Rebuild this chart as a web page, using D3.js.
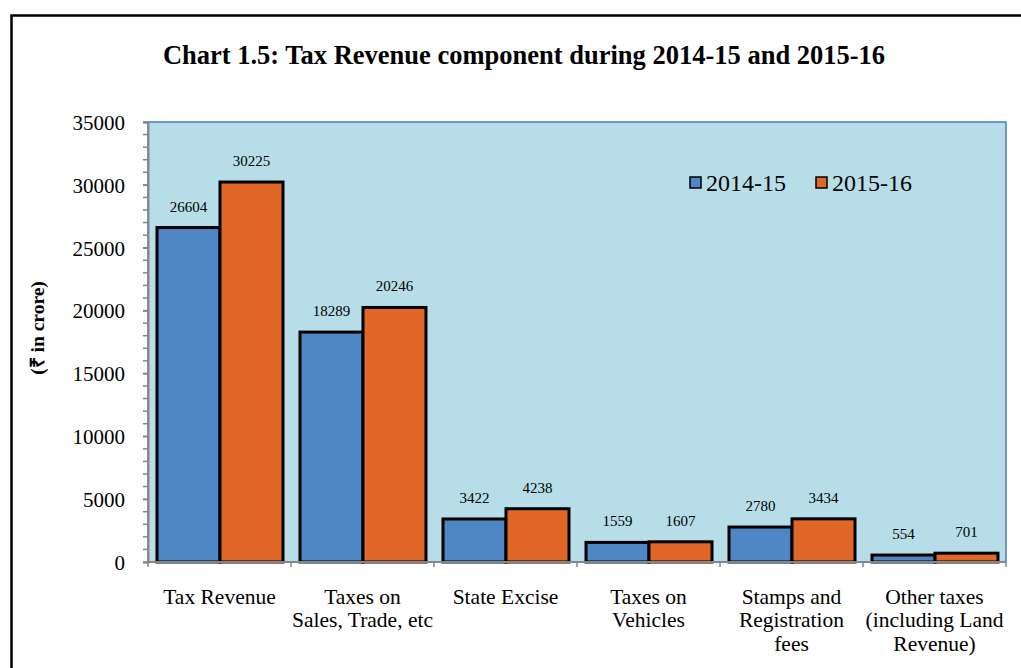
<!DOCTYPE html>
<html>
<head>
<meta charset="utf-8">
<script src="https://cdn.jsdelivr.net/npm/d3@7"></script>
<style>
  body { margin: 0; background: #fff; }
  svg text { font-family: "Liberation Serif", "Times New Roman", serif; }
</style>
</head>
<body>
<svg id="chart" width="1021" height="668"></svg>
<script>
const categories = [
  ['Tax Revenue'],
  ['Taxes on', 'Sales, Trade, etc'],
  ['State Excise'],
  ['Taxes on', 'Vehicles'],
  ['Stamps and', 'Registration', 'fees'],
  ['Other taxes', '(including Land', 'Revenue)']
]
const series = ['2014-15', '2015-16']
const values1415 = [26604, 18289, 3422, 1559, 2780, 554]
const values1516 = [30225, 20246, 4238, 1607, 3434, 701]
const yTicks = [0, 5000, 10000, 15000, 20000, 25000, 30000, 35000]

const colors = ['#4F86C6', '#E06726']
const serif = '"Liberation Serif", "Times New Roman", serif'

const svg = d3.select('#chart')

// outer frame
svg.append('path')
  .attr('d', 'M11.5,668 V15.5 H1021')
  .attr('fill', 'none')
  .attr('stroke', '#000')
  .attr('stroke-width', 2.5)

svg.append('text')
  .attr('x', 524)
  .attr('y', 64)
  .attr('text-anchor', 'middle')
  .attr('font-size', 26.5)
  .attr('font-weight', 'bold')
  .text('Chart 1.5: Tax Revenue component during 2014-15 and 2015-16')

const plotL = 148, plotR = 1006, plotT = 122, plotB = 562

let x = d3.scaleBand()
  .domain(d3.range(categories.length))
  .range([plotL, plotR])

let y = d3.scaleLinear()
  .domain([0, 35000])
  .range([plotB, plotT])

// plot background
svg.append('rect')
  .attr('x', plotL)
  .attr('y', plotT)
  .attr('width', plotR - plotL)
  .attr('height', plotB - plotT)
  .attr('fill', '#B7DEE8')
  .attr('stroke', '#4A7EBB')
  .attr('stroke-width', 1.5)

const barW = 63
const offset = (x.bandwidth() - 2 * barW) / 2 + 0.5

const allSeries = [values1415, values1516]
allSeries.forEach((vals, si) => {
  svg.selectAll('rect.s' + si)
    .data(vals)
    .enter()
    .append('rect')
    .attr('class', 's' + si)
    .attr('x', (d, i) => x(i) + offset + si * barW)
    .attr('y', d => y(d))
    .attr('width', barW)
    .attr('height', d => y(0) - y(d))
    .attr('fill', colors[si])
    .attr('stroke', '#000')
    .attr('stroke-width', 3)

  svg.selectAll('text.v' + si)
    .data(vals)
    .enter()
    .append('text')
    .attr('class', 'v' + si)
    .attr('x', (d, i) => x(i) + offset + si * barW + barW / 2)
    .attr('y', d => y(d) - 16)
    .attr('text-anchor', 'middle')
    .attr('font-size', 15)
    .text(d => d)
})

// y axis
let yAxis = d3.axisLeft(y)
  .tickValues(yTicks)
  .tickFormat(d3.format('d'))
  .tickSize(5)
  .tickPadding(18)
let yg = svg.append('g')
  .attr('transform', `translate(${plotL}, 0)`)
  .call(yAxis)
  .attr('font-family', serif)
  .attr('font-size', 21)
yg.select('.domain').attr('stroke', '#868686').attr('stroke-width', 2)
yg.selectAll('.tick line').attr('stroke', '#868686').attr('stroke-width', 1.5)
yg.selectAll('.tick text')
  .attr('fill', '#000')
  .attr('dy', '0.35em')

let minor = svg.append('g')
minor.selectAll('line')
  .data(d3.range(0, 35001, 1000))
  .enter()
  .append('line')
  .attr('x1', plotL - 5)
  .attr('x2', plotL)
  .attr('y1', d => y(d))
  .attr('y2', d => y(d))
  .attr('stroke', '#868686')
  .attr('stroke-width', 1.5)

// x axis
let xg = svg.append('g')
xg.append('line')
  .attr('x1', plotL)
  .attr('x2', plotR)
  .attr('y1', plotB)
  .attr('y2', plotB)
  .attr('stroke', '#868686')
  .attr('stroke-width', 2)
xg.selectAll('line.tk')
  .data(d3.range(categories.length + 1))
  .enter()
  .append('line')
  .attr('class', 'tk')
  .attr('x1', i => plotL + i * x.step())
  .attr('x2', i => plotL + i * x.step())
  .attr('y1', plotB)
  .attr('y2', plotB + 5)
  .attr('stroke', '#868686')
  .attr('stroke-width', 1.5)

xg.selectAll('text.cat')
  .data(categories)
  .enter()
  .append('text')
  .attr('class', 'cat')
  .attr('text-anchor', 'middle')
  .attr('font-size', 21.5)
  .each(function(lines, i) {
    d3.select(this).selectAll('tspan')
      .data(lines)
      .enter()
      .append('tspan')
      .attr('x', x(i) + x.bandwidth() / 2)
      .attr('y', (l, j) => 604 + j * 23.3)
      .text(l => l)
  })

// y axis title
svg.append('text')
  .attr('transform', 'translate(44, 328) rotate(-90)')
  .attr('text-anchor', 'middle')
  .attr('font-size', 19.5)
  .attr('font-weight', 'bold')
  .text('(₹ in crore)')

// legend
let legend = svg.append('g')
let legendX = [690, 816]
series.forEach((s, i) => {
  legend.append('rect')
    .attr('x', legendX[i])
    .attr('y', 177)
    .attr('width', 11)
    .attr('height', 11)
    .attr('fill', colors[i])
    .attr('stroke', '#000')
    .attr('stroke-width', 1.5)
  legend.append('text')
    .attr('x', legendX[i] + 16)
    .attr('y', 191)
    .attr('font-size', 24)
    .text(s)
})
</script>
</body>
</html>
